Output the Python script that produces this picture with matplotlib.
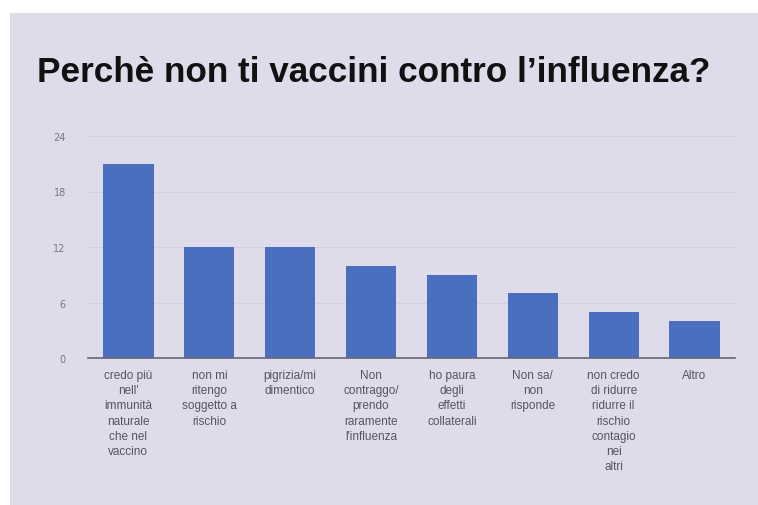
import matplotlib.pyplot as plt
from matplotlib.patches import Rectangle

categories = [
    "credo più\nnell'\nimmunità\nnaturale\nche nel\nvaccino",
    "non mi\nritengo\nsoggetto a\nrischio",
    "pigrizia/mi\ndimentico",
    "Non\ncontraggo/\nprendo\nraramente\nl'influenza",
    "ho paura\ndegli\neffetti\ncollaterali",
    "Non sa/\nnon\nrisponde",
    "non credo\ndi ridurre\nridurre il\nrischio\ncontagio\nnei\naltri",
    "Altro",
]
values = [21, 12, 12, 10, 9, 7, 5, 4]
yticks = [0, 6, 12, 18, 24]

bg = "#dedbeb"
bar_color = "#4a6fbe"

fig = plt.figure(figsize=(7.58, 5.06), dpi=100)
fig.patch.set_facecolor("white")
# pannello lilla dietro al grafico
fig.patches.append(Rectangle((10 / 758, 0), 1 - 10 / 758, 1 - 14 / 506,
                             transform=fig.transFigure, facecolor=bg,
                             edgecolor="none", zorder=-5))

fig.text(37 / 758, 1 - 72 / 506, "Perchè non ti vaccini contro l\u2019influenza?",
         fontsize=25.3, fontweight="bold", family="Liberation Sans",
         va="center", ha="left", color="#111111")

ax = fig.add_axes([88 / 758, 1 - 359 / 506, (735 - 88) / 758, (359 - 137) / 506])
ax.set_facecolor("none")
x = range(len(values))
ax.bar(x, values, width=0.62, color=bar_color, zorder=2)
ax.set_xlim(-0.5, len(values) - 0.5)
ax.set_ylim(0, 24)
ax.set_yticks(yticks)
ax.set_yticklabels([str(t) for t in yticks])
ax.set_xticks(list(x))
ax.set_xticklabels(categories, fontsize=8.5, color="#555560", linespacing=1.35,
                   family="Liberation Sans")
ax.tick_params(axis="y", labelsize=7, colors="#777777", length=0, pad=16)
ax.tick_params(axis="x", length=0, pad=8)
ax.grid(axis="y", color="#d2cfe0", linewidth=0.8, zorder=0)
for s in ["top", "right", "left"]:
    ax.spines[s].set_visible(False)
ax.spines["bottom"].set_color("#666677")
ax.spines["bottom"].set_linewidth(1.2)

plt.savefig("out.png", dpi=100)
